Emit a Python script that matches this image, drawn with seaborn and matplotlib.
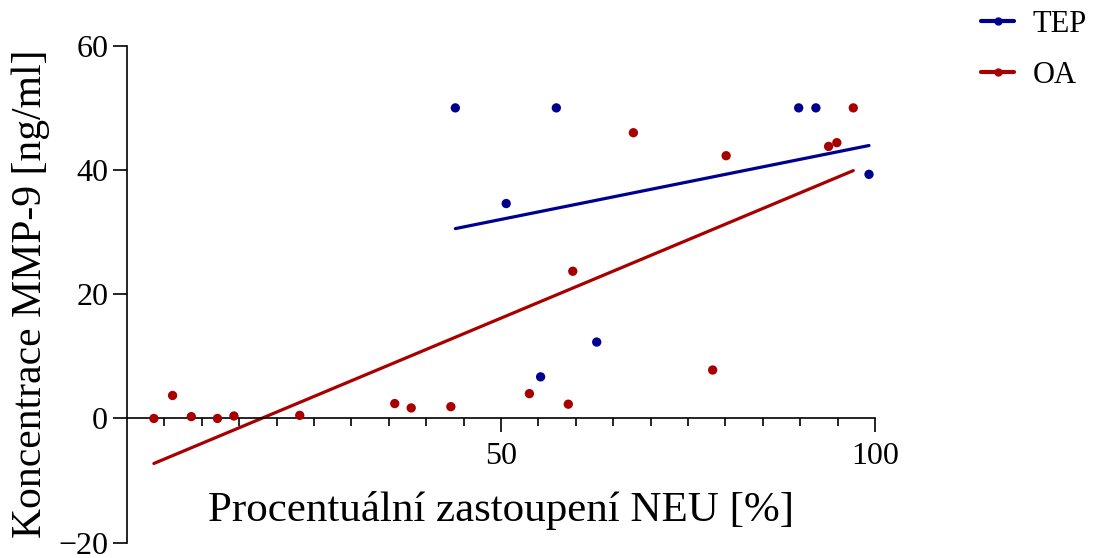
import numpy as np
import pandas as pd
import matplotlib
matplotlib.use('Agg')
import matplotlib.pyplot as plt
from matplotlib.lines import Line2D
from matplotlib.ticker import FixedLocator
import seaborn as sns

# Data
tep_neu = [43.9, 57.4, 50.7, 89.8, 92.1, 99.2, 62.8, 55.3]
tep_mmp9 = [50.0, 50.0, 34.6, 50.0, 50.0, 39.3, 12.3, 6.7]

oa_neu = [3.6, 6.1, 8.6, 12.1, 14.3, 23.1, 35.8, 38.0, 43.3, 53.8, 59.0,
          59.6, 67.7, 80.1, 93.8, 94.9, 97.1, 78.3]
oa_mmp9 = [0.0, 3.7, 0.3, 0.0, 0.4, 0.5, 2.4, 1.7, 1.9, 4.0, 2.3,
           23.7, 46.0, 42.3, 43.8, 44.4, 50.0, 7.8]

groups = ['TEP', 'OA']
colors = {'TEP': '#00008E', 'OA': '#A80000'}

df = pd.concat([
    pd.DataFrame({'neu': tep_neu, 'mmp9': tep_mmp9, 'skupina': 'TEP'}),
    pd.DataFrame({'neu': oa_neu, 'mmp9': oa_mmp9, 'skupina': 'OA'}),
], ignore_index=True)

sns.set_style('ticks')
plt.rcParams['font.family'] = ['Liberation Serif', 'DejaVu Serif']
plt.rcParams['text.color'] = 'black'
plt.rcParams['axes.labelcolor'] = 'black'
plt.rcParams['xtick.color'] = 'black'
plt.rcParams['ytick.color'] = 'black'

fig = plt.figure(figsize=(11.02, 5.58), dpi=100)
ax = fig.add_axes([0.1152, 0.0274, 0.6788, 0.8906])

# Regression lines for each group
for g in groups:
    sub = df[df['skupina'] == g]
    sns.regplot(data=sub, x='neu', y='mmp9', ax=ax, scatter=False, ci=None,
                truncate=True, color=colors[g], line_kws={'linewidth': 2.3})

# Points
sns.scatterplot(data=df, x='neu', y='mmp9', hue='skupina', palette=colors,
                s=45, edgecolor='none', legend=False, ax=ax, zorder=3,
                clip_on=False)

# Axes styling
ax.set_xlim(0, 100)
ax.set_ylim(-20, 60)
ax.spines['top'].set_visible(False)
ax.spines['right'].set_visible(False)
ax.spines['bottom'].set_position(('data', 0))
for sp in ['left', 'bottom']:
    ax.spines[sp].set_linewidth(1.2)
    ax.spines[sp].set_color('black')

ax.set_xticks([50, 100])
ax.xaxis.set_minor_locator(FixedLocator([v for v in range(5, 100, 5) if v != 50]))
ax.set_yticks([-20, 0, 20, 40, 60])
ax.tick_params(axis='both', which='major', direction='out', length=10,
               width=1.2, labelsize=23, color='black')
ax.tick_params(axis='x', which='major', pad=7)
ax.tick_params(axis='x', which='minor', direction='out', length=5.5,
               width=1.2, color='black')

ax.set_xlabel('Procentuální zastoupení NEU [%]', fontsize=31, labelpad=14)
ax.set_ylabel('Koncentrace MMP-9 [ng/ml]', fontsize=30, labelpad=6)

# Legend at the top right of the figure
handles = [Line2D([0], [0], color=colors[g], linewidth=3, marker='o',
                  markersize=5) for g in groups]
fig.legend(handles, groups, loc='upper left', bbox_to_anchor=(0.865, 1.032),
           frameon=False, fontsize=22, handlelength=1.1, handletextpad=0.6,
           labelspacing=0.72)

fig.savefig('out.png', dpi=100)
